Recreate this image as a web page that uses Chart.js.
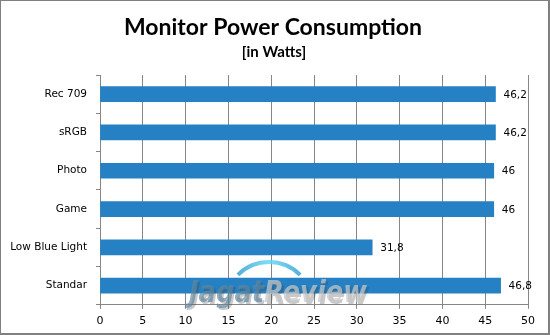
<!DOCTYPE html>
<html>
<head>
<meta charset="utf-8">
<script src="https://cdn.jsdelivr.net/npm/chart.js@4/dist/chart.umd.min.js"></script>
<style>
  html, body { margin: 0; padding: 0; background: #fff; }
  #wrap { width: 550px; height: 335px; position: relative; }
</style>
</head>
<body>
<div id="wrap"><canvas id="c" width="550" height="335"></canvas></div>
<script>
// Power draw per picture mode
const modes = ['Rec 709', 'sRGB', 'Photo', 'Game', 'Low Blue Light', 'Standar'];
const watts = [46.2, 46.2, 46, 46, 31.8, 46.8];
const xTicks = [0, 5, 10, 15, 20, 25, 30, 35, 40, 45, 50];

const chartTitle = 'Monitor Power Consumption';
const chartSubtitle = '[in Watts]';

const GRID = '#868686';
const BAR = '#2581C3';
const LABEL_FONT = '"DejaVu Sans", Verdana, sans-serif';

// Comma decimal, as used in Indonesian
const fmt = v => String(v).replace('.', ',');

const decor = {
  id: 'decor',
  beforeDraw(chart) {
    const ctx = chart.ctx;
    ctx.save();
    ctx.fillStyle = '#fff';
    ctx.fillRect(0, 0, chart.width, chart.height);
    ctx.restore();
  },
  afterDatasetsDraw(chart) {
    const ctx = chart.ctx;
    const meta = chart.getDatasetMeta(0);
    ctx.save();
    // value labels
    ctx.font = '10.5px ' + LABEL_FONT;
    ctx.fillStyle = '#000';
    ctx.textBaseline = 'middle';
    ctx.textAlign = 'left';
    meta.data.forEach((bar, i) => {
      ctx.fillText(fmt(watts[i]), bar.x + 8, bar.y + 1);
    });

    // site watermark
    ctx.globalAlpha = 0.8;
    const grad = ctx.createLinearGradient(238, 0, 300, 0);
    grad.addColorStop(0, '#2a9fd0');
    grad.addColorStop(0.5, '#5fd6f5');
    grad.addColorStop(1, '#2a9fd0');
    ctx.strokeStyle = grad;
    ctx.lineWidth = 4;
    ctx.beginPath();
    ctx.arc(269, 306, 44, Math.PI * 1.25, Math.PI * 1.75);
    ctx.stroke();

    ctx.font = 'italic bold 38px "DejaVu Sans", sans-serif';
    ctx.textBaseline = 'alphabetic';
    const wJ = ctx.measureText('Jagat').width;
    const wR = ctx.measureText('Review').width;
    const sx = 178 / (wJ + wR);
    ctx.translate(189, 302);
    ctx.scale(sx, 0.78);
    ctx.fillStyle = 'rgba(60,60,60,0.35)';
    ctx.fillText('Jagat', 3, 3);
    ctx.fillText('Review', wJ + 3, 3);
    ctx.fillStyle = 'rgba(95,135,160,0.85)';
    ctx.fillText('Jagat', 0, 0);
    ctx.fillStyle = 'rgba(200,200,200,0.9)';
    ctx.fillText('Review', wJ, 0);
    ctx.restore();
  },
  afterDraw(chart) {
    const ctx = chart.ctx;
    ctx.save();
    ctx.textAlign = 'center';
    ctx.fillStyle = '#000';
    ctx.textBaseline = 'alphabetic';
    ctx.font = 'bold 23px Lato, "Open Sans", sans-serif';
    ctx.fillText(chartTitle, 273, 35);
    ctx.font = 'bold 15px Lato, "Open Sans", sans-serif';
    ctx.fillText(chartSubtitle, 274, 57);
    // outer frame
    ctx.strokeStyle = '#808080';
    ctx.lineWidth = 2;
    ctx.strokeRect(0, 0, 549, 334);
    ctx.restore();
  }
};

new Chart(document.getElementById('c'), {
  type: 'bar',
  data: {
    labels: modes,
    datasets: [{
      data: watts,
      backgroundColor: BAR,
      borderWidth: 0,
      barThickness: 15
    }]
  },
  options: {
    indexAxis: 'y',
    responsive: false,
    animation: false,
    devicePixelRatio: 1,
    layout: { padding: { top: 75, right: 22, bottom: 1, left: 0 } },
    plugins: {
      legend: { display: false },
      tooltip: { enabled: false },
      title: { display: false }
    },
    scales: {
      x: {
        type: 'linear',
        min: 0,
        max: 50,
        afterBuildTicks(axis) { axis.ticks = xTicks.map(v => ({ value: v })); },
        grid: { color: GRID, lineWidth: 1, tickLength: 4, drawTicks: true },
        border: { display: true, color: GRID, width: 1 },
        ticks: {
          color: '#000',
          padding: 6,
          maxRotation: 0,
          font: { family: LABEL_FONT, size: 11 }
        }
      },
      y: {
        afterFit(axis) { axis.width = 100; },
        grid: { offset: true, drawOnChartArea: false, drawTicks: true, tickLength: 4, color: GRID },
        border: { display: true, color: GRID, width: 1 },
        ticks: {
          color: '#000',
          padding: 9,
          font: { family: LABEL_FONT, size: 10.5 }
        }
      }
    }
  },
  plugins: [decor]
});
</script>
</body>
</html>
